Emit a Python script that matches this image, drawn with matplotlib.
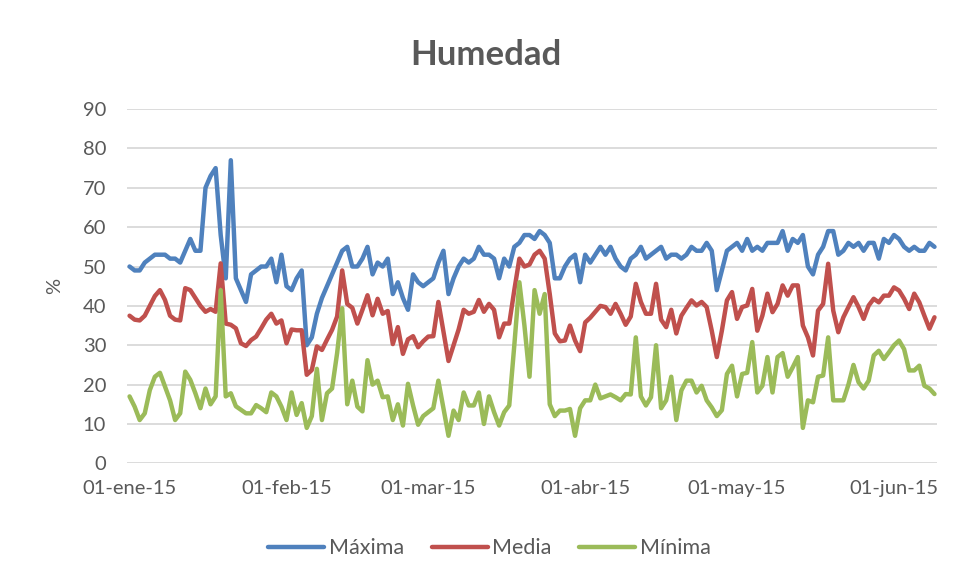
import numpy as np
import pandas as pd
import matplotlib
matplotlib.use("Agg")
import matplotlib.pyplot as plt

# daily humidity, 01-ene-15 .. 09-jun-15
fechas = pd.date_range("2015-01-01", periods=160, freq="D")

maxima = [50, 49, 49, 51, 52, 53, 53, 53, 52, 52, 51, 54, 57, 54, 54, 70, 73, 75, 58, 47,
          77, 47, 44, 41, 48, 49, 50, 50, 52, 46, 53, 45, 44, 47, 49, 30, 32, 38, 42, 45,
          48, 51, 54, 55, 50, 50, 52, 55, 48, 51, 50, 52, 43, 46, 42, 39, 48, 46, 45, 46,
          47, 51, 54, 43, 47, 50, 52, 51, 52, 55, 53, 53, 52, 47, 52, 50, 55, 56, 58, 58,
          57, 59, 58, 56, 47, 47, 50, 52, 53, 46, 53, 51, 53, 55, 53, 55, 52, 50, 49, 52,
          53, 55, 52, 53, 54, 55, 52, 53, 53, 52, 53, 55, 54, 54, 56, 54, 44, 49, 54, 55,
          56, 54, 57, 54, 55, 54, 56, 56, 56, 59, 54, 57, 56, 58, 50, 48, 53, 55, 59, 59,
          53, 54, 56, 55, 56, 54, 56, 56, 52, 57, 56, 58, 57, 55, 54, 55, 54, 54, 56, 55]

media = [37.5, 36.5, 36.3, 37.5, 40, 42.5, 44, 41.5, 37.5, 36.5, 36.3, 44.5, 44, 42, 40, 38.5,
         39.2, 38.5, 50.8, 35.5, 35.2, 34.3, 30.5, 29.8, 31.3, 32.2, 34.3, 36.5, 38, 35.5, 36.3,
         30.5, 34, 33.8, 33.8, 22.5, 23.7, 29.7, 28.8, 31.4, 33.9, 37.3, 49, 40.5, 39.5, 35.5,
         39, 42.7, 37.6, 41.8, 38, 38.7, 30.3, 34.6, 27.8, 31.5, 32.3, 29.5, 31, 32.2, 32.3,
         41, 33.5, 26, 30, 34, 39, 38, 38.5, 41.5, 38.5, 40.5, 39, 32, 35.5, 35.5, 44, 52,
         50, 50.5, 53, 54, 52, 43, 33, 31, 31.2, 35, 31.2, 28.5, 35.8, 37, 38.5, 40, 39.7,
         38, 40.5, 38, 35.2, 37.3, 45.6, 41, 38, 38, 45.6, 36.5, 34.6, 39, 33, 37.5, 39.5,
         41.4, 40.1, 41, 39.7, 33.7, 27, 33.7, 41.4, 43.5, 36.7, 39.7, 40.1, 44.3, 33.7, 37.5,
         43.1, 38.4, 40.5, 45.2, 42.6, 45.2, 45.2, 35, 32, 27.4, 38.8, 40.5, 50.7, 38.8, 33.3,
         37.1, 39.7, 42.2, 39.7, 36.7, 40.1, 41.8, 40.9, 42.6, 42.6, 44.7, 43.9, 41.8, 39.2,
         43.1, 40.9, 37.5, 34.2, 37.1]

minima = [17, 14.4, 11, 12.7, 18.6, 22, 23, 19.5, 16, 11, 12.7, 23.3, 21.2, 17.8, 14, 19,
          15, 17, 44, 17, 17.8, 14.5, 13.6, 12.7, 12.7, 14.8, 14, 13, 18, 17, 14.4, 11, 18,
          12.3, 15.3, 9, 12, 24, 11, 17.8, 19, 28, 39.4, 15, 21, 14.4, 13.2, 26.2, 20, 21,
          16.8, 17, 11, 15, 9.6, 20.2, 14.7, 9.8, 12, 13, 14, 21, 14, 7, 13.4, 11, 18, 14.7,
          14.7, 18, 10, 17, 13, 9.6, 13, 14.7, 30, 46, 35, 22, 44, 38, 43, 15, 12, 13.4, 13.4,
          13.8, 7, 14, 16, 16, 20, 16.5, 17, 17.5, 16.8, 16, 17.6, 17.5, 32, 17, 14.7, 16.8,
          30, 14, 16, 22, 11, 18.5, 21, 21, 18, 19.7, 16, 14.2, 12, 13.5, 22.7, 24.8, 17,
          22.7, 23, 30.8, 18, 19.7, 27, 18, 27, 28, 22, 24.4, 27, 9, 16, 15.5, 22, 22.3, 32,
          16, 16, 16, 20, 25, 20.6, 19, 21, 27.4, 28.6, 26.5, 28.2, 30, 31.2, 29, 23.6, 23.6,
          24.8, 19.7, 19, 17.6]

tick_fechas = pd.to_datetime(["2015-01-01", "2015-02-01", "2015-03-01",
                              "2015-04-01", "2015-05-01", "2015-06-01"])
tick_labels = ["01-ene-15", "01-feb-15", "01-mar-15", "01-abr-15", "01-may-15", "01-jun-15"]

gris = "#595959"
plt.rcParams["font.family"] = ["Lato", "DejaVu Sans"]

fig = plt.figure(figsize=(9.58, 5.77), dpi=100)
ax = fig.add_axes([0.1326, 0.197, 0.8455, 0.614])

ax.plot(fechas, maxima, color="#4f81bd", lw=3.2, solid_joinstyle="round",
        solid_capstyle="round", label="Máxima")
ax.plot(fechas, media, color="#c0504d", lw=3.2, solid_joinstyle="round",
        solid_capstyle="round", label="Media")
ax.plot(fechas, minima, color="#9bbb59", lw=3.2, solid_joinstyle="round",
        solid_capstyle="round", label="Mínima")

ax.set_ylim(0, 90)
ax.set_yticks(np.arange(0, 91, 10))
ax.set_xlim(fechas[0] - pd.Timedelta(hours=12), fechas[-1] + pd.Timedelta(hours=12))
ax.set_xticks(tick_fechas)
ax.set_xticklabels(tick_labels)

ax.grid(axis="y", color="#d9d9d9", lw=1.3)
ax.set_axisbelow(True)
for s in ax.spines.values():
    s.set_visible(False)
ax.tick_params(axis="both", length=0, labelsize=14.5, labelcolor=gris)
ax.tick_params(axis="y", pad=15)
ax.tick_params(axis="x", pad=12)

ax.set_ylabel("%", fontsize=14.5, color=gris, labelpad=14)

fig.text(0.507, 0.905, "Humedad", ha="center", va="center", fontsize=25,
         fontweight="bold", color=gris)

fig.legend(loc="center", bbox_to_anchor=(0.511, 0.05), ncol=3, frameon=False,
           fontsize=15.5, labelcolor=gris, handlelength=2.6, handletextpad=0.2,
           columnspacing=1.3)

fig.savefig("out.png", dpi=100)
